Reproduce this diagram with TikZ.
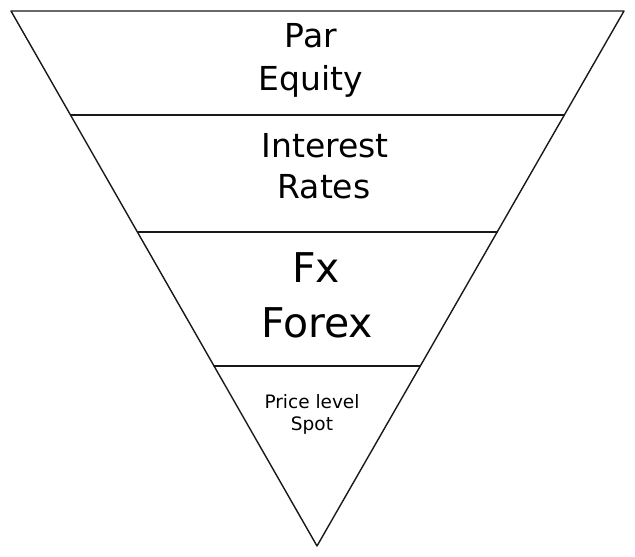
\documentclass[tikz,border=0pt]{standalone}
\usepackage{fontspec}
\setmainfont{DejaVu Sans}
\usetikzlibrary{calc}
\tikzset{
  edge/.style={line width=1.4pt, line join=round, line cap=round, black!90},
  sep/.style={line width=1.3pt, line cap=round, black!90},
  big/.style={anchor=base, inner sep=0pt, font=\fontsize{33}{33}\selectfont},
  huge/.style={anchor=base, inner sep=0pt, font=\fontsize{41}{41}\selectfont},
  small/.style={anchor=base, inner sep=0pt, font=\fontsize{18.5}{18.5}\selectfont},
}
\begin{document}
\begin{tikzpicture}[x=1pt,y=-1pt]
\useasboundingbox (0,0) rectangle (635,557);
\coordinate (A) at (11,11);
\coordinate (B) at (624,11);
\coordinate (C) at (317,546);
\draw[edge] (A) -- (B) -- (C) -- cycle;
\coordinate (L1) at ($(A)!0.1944!(C)$);
\coordinate (R1) at ($(B)!0.1944!(C)$);
\coordinate (L2) at ($(A)!0.4131!(C)$);
\coordinate (R2) at ($(B)!0.4131!(C)$);
\coordinate (L3) at ($(A)!0.6636!(C)$);
\coordinate (R3) at ($(B)!0.6636!(C)$);
\draw[sep] (L1) -- (R1);
\draw[sep] (L2) -- (R2);
\draw[sep] (L3) -- (R3);
\node[big] (par) at (311,47) {Par};
\node[big] (equity) at (311,90) {Equity};
\node[big] (interest) at (325,157) {Interest};
\node[big] (rates) at (324,198) {Rates};
\node[huge] (fx) at (316,282) {Fx};
\node[huge] (forex) at (317,337) {Forex};
\node[small] (price) at (312,408) {Price level};
\node[small] (spot) at (312,430) {Spot};
\end{tikzpicture}
\end{document}
